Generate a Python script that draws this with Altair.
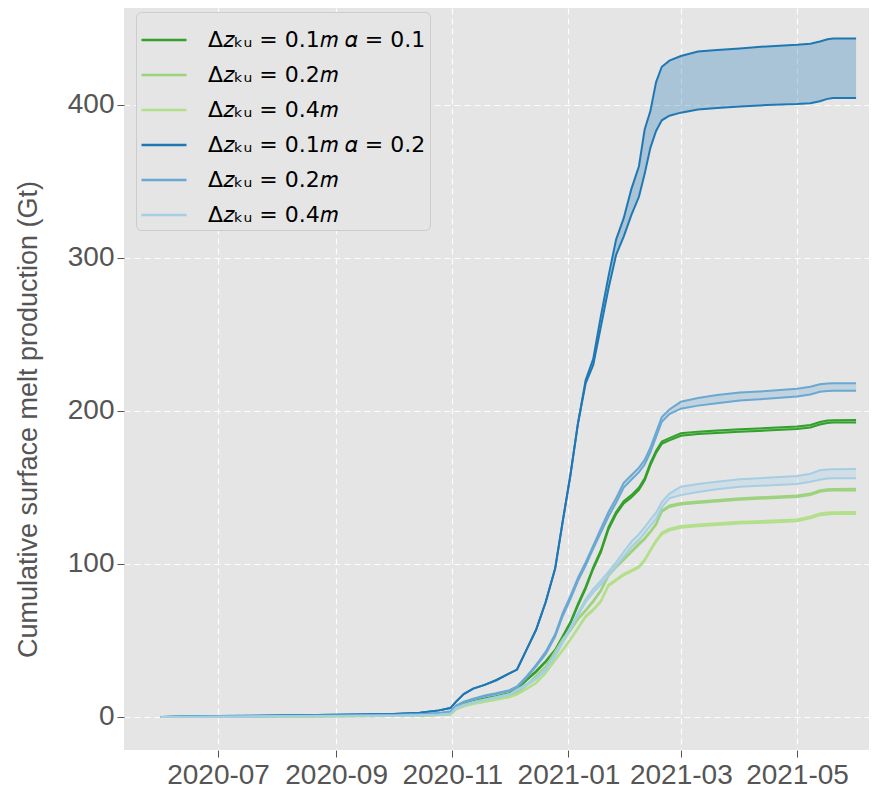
import altair as alt
import pandas as pd

dates = ["2020-06-01", "2020-07-01", "2020-08-01", "2020-09-01", "2020-10-01", "2020-10-15",
         "2020-10-25", "2020-10-31", "2020-11-03", "2020-11-07", "2020-11-12", "2020-11-18",
         "2020-11-24", "2020-12-01", "2020-12-05", "2020-12-10", "2020-12-15", "2020-12-20",
         "2020-12-25", "2020-12-29", "2021-01-02", "2021-01-06", "2021-01-10", "2021-01-14",
         "2021-01-18", "2021-01-22", "2021-01-26", "2021-01-30", "2021-02-03", "2021-02-07",
         "2021-02-10", "2021-02-13", "2021-02-16", "2021-02-19", "2021-02-23", "2021-03-01",
         "2021-03-10", "2021-03-20", "2021-04-01", "2021-04-15", "2021-05-01", "2021-05-08",
         "2021-05-13", "2021-05-17", "2021-05-20", "2021-06-01"]

labels = ["Δ𝑧ₖᵤ = 0.1𝑚 𝛼 = 0.1", "Δ𝑧ₖᵤ = 0.2𝑚", "Δ𝑧ₖᵤ = 0.4𝑚 ",
          "Δ𝑧ₖᵤ = 0.1𝑚 𝛼 = 0.2", "Δ𝑧ₖᵤ = 0.2𝑚 ", "Δ𝑧ₖᵤ = 0.4𝑚"]
colors = ["#33a02c", "#9dd27e", "#b2df8a", "#1f78b4", "#6aa8d2", "#a6cee3"]

# alpha = 0.1
g1_up = [0, 0.2, 0.4, 0.6, 0.9, 1.3, 1.8, 2.4, 6.5, 8.5, 10.3, 12, 13.5, 15.5, 18.5, 24.5, 30, 36.5,
         44, 53, 62, 74, 85, 98, 109, 124, 134, 141, 145, 150, 156, 166, 174, 180, 182.3, 185.4,
         186.5, 187.2, 188, 188.8, 189.8, 190.8, 192.8, 193.8, 194, 194.1]
g1_lo = [0, 0.2, 0.4, 0.6, 0.9, 1.3, 1.8, 2.3, 6.2, 8.2, 10, 11.7, 13.2, 15.1, 18, 24, 29.4, 35.8,
         43.2, 52, 61, 72.8, 83.8, 96.7, 107.6, 122.5, 132.5, 139.5, 143.5, 148.5, 154.5, 164.5,
         172.5, 178.5, 180.8, 183.8, 184.9, 185.6, 186.4, 187.2, 188.2, 189.2, 191.2, 192.2, 192.4, 192.5]
g2_up = [0, 0.15, 0.3, 0.45, 0.65, 0.9, 1.3, 1.8, 5.5, 7.5, 9.2, 10.8, 12.2, 14, 16, 21, 27, 33,
         43, 51, 57, 64.5, 70, 76, 83, 93, 98.5, 103.5, 108.5, 113.5, 117, 121.5, 126.5, 135, 138.3,
         139.8, 140.8, 141.8, 143, 143.8, 144.7, 146, 148.2, 148.8, 149, 149.1]
g2_lo = [0, 0.15, 0.3, 0.45, 0.65, 0.9, 1.3, 1.7, 5.3, 7.3, 9, 10.5, 11.9, 13.7, 15.7, 20.6, 26.6,
         32.5, 42.4, 50.4, 56.3, 63.8, 69.2, 75.2, 82.2, 92.1, 97.6, 102.6, 107.6, 112.6, 116.1,
         120.6, 125.5, 134, 137.3, 138.8, 139.8, 140.8, 142, 142.8, 143.7, 145, 147.2, 147.8, 148, 148.1]
g3_up = [0, 0.1, 0.25, 0.4, 0.6, 0.85, 1.2, 1.6, 5, 7, 8.6, 10, 11.4, 13, 15, 18.5, 22.5, 29, 37.5,
         44, 51, 58.5, 66, 70.5, 76, 86.5, 90, 93.5, 96, 98.5, 103, 109.5, 115.5, 120.5, 123, 124.8,
         125.8, 126.6, 127.6, 128.2, 129.1, 131, 133, 133.6, 133.8, 133.9]
g3_lo = [0, 0.1, 0.25, 0.4, 0.6, 0.85, 1.2, 1.5, 4.8, 6.8, 8.4, 9.8, 11.2, 12.8, 14.7, 18.1, 22.1,
         28.5, 37, 43.4, 50.3, 57.7, 65.2, 69.6, 75.1, 85.5, 89, 92.5, 95, 97.5, 102, 108.5, 114.4,
         119.3, 121.8, 123.6, 124.6, 125.4, 126.4, 127, 127.9, 129.8, 131.8, 132.4, 132.6, 132.7]
# alpha = 0.2
b1_up = [0, 0.6, 1.0, 1.4, 2.0, 2.8, 4.3, 5.8, 10, 15, 18.5, 21, 24, 28.5, 31, 44, 57, 75, 97, 128,
         158, 192, 220, 234, 262, 288, 312, 326, 345, 360, 384, 396, 415, 425, 429, 432, 435, 436,
         437, 438.3, 439.3, 440, 441.5, 443, 443.5, 443.5]
b1_lo = [0, 0.6, 1.0, 1.4, 2.0, 2.8, 4.3, 5.8, 10, 15, 18.5, 21, 24, 28.5, 31, 44, 57, 75, 97, 128,
         158, 192, 218, 230, 255, 280, 302, 314, 328, 340, 355, 372, 383, 390, 393, 395, 397, 398,
         399, 400, 400.7, 401.2, 402.5, 404, 404.5, 404.6]
b2_up = [0, 0.3, 0.6, 0.9, 1.3, 1.8, 2.6, 3.5, 7.5, 10, 12, 14, 15.5, 17.5, 20, 26.5, 34, 42.5, 54,
         68, 79, 91, 101, 112, 123, 134, 143, 153, 158, 163, 168, 176, 186, 196, 201, 206, 208.5,
         210.5, 212, 213, 214.5, 215.8, 217.5, 218, 218.1, 218.2]
b2_lo = [0, 0.3, 0.6, 0.9, 1.3, 1.8, 2.5, 3.3, 7, 9.5, 11.5, 13.5, 15, 17, 19.3, 25.5, 33, 41, 52.5,
         66, 77, 89, 99, 110, 120.5, 131, 140, 150, 155, 160, 165, 173, 183, 193, 198, 201.5, 203.5,
         205, 206.8, 208, 209.4, 210.8, 212.5, 213, 213.2, 213.3]
b3_up = [0, 0.2, 0.4, 0.6, 0.8, 1.1, 1.6, 2.2, 6, 8, 9.8, 11.5, 13, 15, 17.8, 21.5, 25.5, 31.5, 41,
         50, 58.5, 68, 77, 83.5, 89, 95, 101, 108, 114.5, 119.5, 124, 129, 133.5, 140.5, 146, 150.5,
         152.2, 153.8, 155.3, 156.3, 157.5, 159, 161.2, 161.8, 161.9, 162]
b3_lo = [0, 0.2, 0.4, 0.6, 0.8, 1.1, 1.5, 2.1, 5.6, 7.6, 9.4, 11, 12.5, 14.4, 17.1, 20.7, 24.6, 30.4,
         39.6, 48.5, 57, 66.3, 75, 81.3, 86.6, 92.4, 98.2, 104.8, 111, 115.8, 120.2, 125, 129.5, 137,
         143, 145, 147, 148.8, 150.5, 151.3, 152.3, 153.7, 155.1, 155.8, 156, 156.1]

uppers = [g1_up, g2_up, g3_up, b1_up, b2_up, b3_up]
lowers = [g1_lo, g2_lo, g3_lo, b1_lo, b2_lo, b3_lo]

rows = []
for name, up, lo in zip(labels, uppers, lowers):
    for d, u, l in zip(dates, up, lo):
        rows.append({"date": d, "series": name, "upper": u, "lower": l})
df = pd.DataFrame(rows)

x_domain = [alt.DateTime(year=2020, month=5, date=12, hours=15, utc=True),
            alt.DateTime(year=2021, month=6, date=7, hours=19, utc=True)]
x_ticks = [alt.DateTime(year=2020, month=7, date=1, utc=True),
           alt.DateTime(year=2020, month=9, date=1, utc=True),
           alt.DateTime(year=2020, month=11, date=1, utc=True),
           alt.DateTime(year=2021, month=1, date=1, utc=True),
           alt.DateTime(year=2021, month=3, date=1, utc=True),
           alt.DateTime(year=2021, month=5, date=1, utc=True)]

x_enc = alt.X("date:T", scale=alt.Scale(type="utc", domain=x_domain),
              axis=alt.Axis(values=x_ticks, format="%Y-%m", title=None, labelFontSize=28,
                            tickSize=7, labelPadding=4))
y_scale = alt.Scale(domain=[-21.6, 463.4], nice=False, zero=False)
y_axis = alt.Axis(values=[0, 100, 200, 300, 400], title="Cumulative surface melt production (Gt)",
                  labelFontSize=28, tickSize=7, labelPadding=3, titleFontSize=27,
                  titleX=-82, titleY=411)

band = alt.Chart(df).mark_area(opacity=0.3).encode(
    x=x_enc,
    y=alt.Y("upper:Q", scale=y_scale, axis=y_axis),
    y2="lower:Q",
    color=alt.Color("series:N", scale=alt.Scale(domain=labels, range=colors), legend=None),
)

lines = alt.Chart(df).transform_fold(["upper", "lower"], as_=["bound", "value"]).mark_line(
    strokeWidth=2).encode(
    x=x_enc,
    y=alt.Y("value:Q", scale=y_scale, axis=y_axis),
    color=alt.Color("series:N", scale=alt.Scale(domain=labels, range=colors),
                    legend=alt.Legend(orient="none", legendX=12, legendY=4, title=None,
                                      symbolType="stroke", symbolSize=2025,
                                      symbolStrokeWidth=2.5, labelFont="DejaVu Sans",
                                      labelFontSize=22, labelColor="black", rowPadding=0,
                                      padding=4, fillColor="#e5e5e5", strokeColor="#cccccc",
                                      cornerRadius=5, labelOffset=20, labelLimit=500)),
    detail="bound:N",
)

chart = alt.layer(band, lines).resolve_scale(color="independent").properties(
    width=745, height=742,
    autosize=alt.AutoSizeParams(type="none"),
    padding={"left": 116, "top": 0, "right": 4, "bottom": 40},
).configure_view(fill="#e5e5e5", stroke=None).configure_axis(
    grid=True, gridColor="white", gridDash=[6, 4], gridWidth=1.2, gridOpacity=0.9,
    domain=False, tickColor="#555555", labelColor="#555555", titleColor="#555555",
    labelFont="Liberation Sans", titleFont="Liberation Sans", titleFontWeight="normal",
)

chart.save("out.html", embed_options={"renderer": "svg", "actions": False})
